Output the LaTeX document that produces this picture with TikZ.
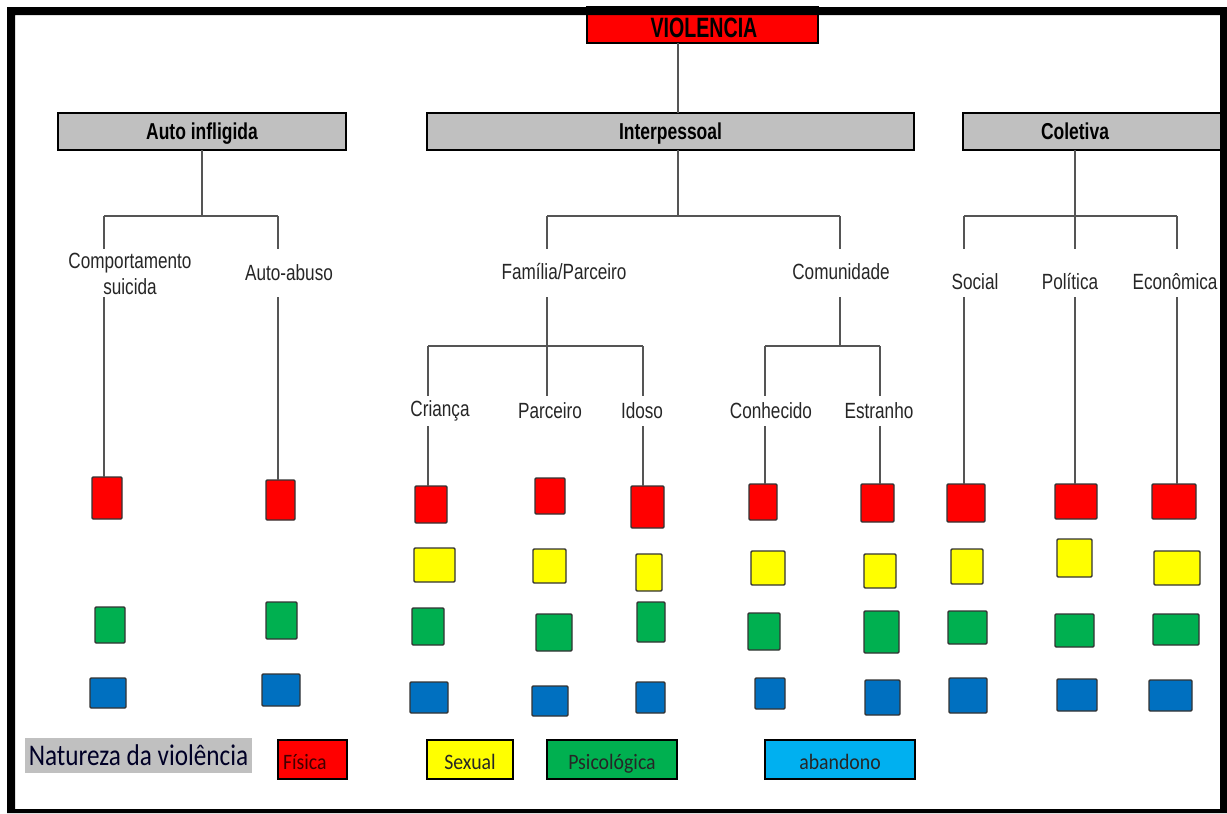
\documentclass[tikz,border=0pt]{standalone}
\usepackage{fontspec}
\setmainfont{Liberation Sans}
\newfontfamily\narrowfont[FakeStretch=0.78]{Liberation Sans}
\newfontfamily\headfont[FakeStretch=0.76]{Liberation Sans}
\newfontfamily\titlefont[FakeStretch=0.7]{Liberation Sans}
\newfontfamily\keyfont[FakeStretch=0.9]{Carlito}
\newfontfamily\keytitlefont[FakeStretch=0.84]{Carlito}

\definecolor{vred}{HTML}{FF0000}
\definecolor{vyellow}{HTML}{FFFF00}
\definecolor{vgreen}{HTML}{00B050}
\definecolor{vblue}{HTML}{0070C0}
\definecolor{vcyan}{HTML}{00B0F0}
\definecolor{boxgray}{HTML}{C0C0C0}
\definecolor{linegray}{HTML}{555555}
\definecolor{labeltext}{HTML}{262626}

% square marker: name, colour, left, top, right, bottom (pixel units, y downwards)
\newcommand\sqnode[6]{%
  \node[sqr, fill=#2, minimum width={#5-#3}, minimum height={#6-#4}]
    (#1) at ({(#3+#5)/2},{(#4+#6)/2}) {};}

\tikzset{
  conn/.style={draw=linegray, line width=1.8pt},
  catbox/.style={draw=black, line width=2.2pt, fill=boxgray, minimum height=37,
    inner sep=0, outer sep=0, text height=16, text depth=0,
    font=\headfont\bfseries\fontsize{23}{25}\selectfont},
  lbl/.style={font=\narrowfont\fontsize{22}{26}\selectfont, text=labeltext,
    inner sep=0, align=center},
  sqr/.style={draw=black!80, line width=1.4pt, rounded corners=1.2pt,
    inner sep=0, outer sep=0},
  keybox/.style={draw=black, line width=2pt, minimum height=39, inner sep=0,
    outer sep=0, text height=20, text depth=0,
    font=\keyfont\fontsize{22}{24}\selectfont},
}

\begin{document}
\begin{tikzpicture}[x=1pt, y=-1pt]
\useasboundingbox (0,0) rectangle (1227,814);
\fill[white] (0,0) rectangle (1227,814);

% ---- root and the three categories
\node[fill=vred, draw=black, line width=2pt, minimum width=231, minimum height=36,
      inner sep=0, outer sep=0] (viol) at (702.5,25) {};
\node[font=\titlefont\bfseries\fontsize{28}{30}\selectfont, inner sep=0,
      text height=20, text depth=0] (violtxt) at (704,27) {VIOLENCIA};

\node[catbox, minimum width=288] (auto) at (202,131.5) {Auto infligida};
\node[catbox, minimum width=487] (inter) at (670.5,131.5) {Interpessoal};
\node[catbox, minimum width=270] (colet) at (1098,131.5) {};
\node[font=\headfont\bfseries\fontsize{23}{25}\selectfont, inner sep=0,
      text height=16, text depth=0] (colettxt) at (1075,131.5) {Coletiva};

% free ends of the short vertical stubs
\coordinate (t1) at (0,249);
\coordinate (t2) at (0,297);
\coordinate (t3) at (0,396);
\coordinate (t4) at (0,426);

% ---- labels
\node[lbl] (comp) at (130,274) {Comportamento\\suicida};
\node[lbl] (aab)  at (289,273) {Auto-abuso};
\node[lbl] (fam)  at (564,272) {Família/Parceiro};
\node[lbl] (comu) at (841,272) {Comunidade};
\node[lbl] (soc)  at (975,282) {Social};
\node[lbl] (pol)  at (1070,282) {Política};
\node[lbl] (eco)  at (1175,282) {Econômica};
\node[lbl] (cri)  at (440,411) {Criança};
\node[lbl] (par)  at (550,411) {Parceiro};
\node[lbl] (ido)  at (642,411) {Idoso};
\node[lbl] (con)  at (771,411) {Conhecido};
\node[lbl] (est)  at (879,411) {Estranho};

% ---- coloured markers
\sqnode{cr}{vred}{92}{477}{122}{519}
\sqnode{cg}{vgreen}{95}{607}{125}{643}
\sqnode{cb}{vblue}{90}{678}{126}{708}
\sqnode{ar}{vred}{266}{480}{295}{520}
\sqnode{ag}{vgreen}{266}{602}{297}{639}
\sqnode{ab}{vblue}{262}{674}{300}{706}

\sqnode{crr}{vred}{415}{486}{447}{523}
\sqnode{cry}{vyellow}{414}{548}{455}{582}
\sqnode{crg}{vgreen}{412}{608}{444}{645}
\sqnode{crb}{vblue}{410}{682}{448}{713}

\sqnode{par r}{vred}{535}{478}{565}{514}
\sqnode{par y}{vyellow}{533}{549}{566}{583}
\sqnode{par g}{vgreen}{536}{614}{572}{651}
\sqnode{par b}{vblue}{532}{686}{568}{716}

\sqnode{idr}{vred}{631}{486}{664}{528}
\sqnode{idy}{vyellow}{636}{554}{662}{591}
\sqnode{idg}{vgreen}{637}{602}{665}{642}
\sqnode{idb}{vblue}{636}{682}{665}{713}

\sqnode{cor}{vred}{749}{484}{777}{520}
\sqnode{coy}{vyellow}{751}{551}{785}{585}
\sqnode{cog}{vgreen}{748}{613}{780}{650}
\sqnode{cob}{vblue}{755}{678}{785}{709}

\sqnode{esr}{vred}{861}{484}{894}{522}
\sqnode{esy}{vyellow}{864}{554}{896}{588}
\sqnode{esg}{vgreen}{864}{611}{899}{653}
\sqnode{esb}{vblue}{865}{680}{900}{715}

\sqnode{sor}{vred}{947}{484}{985}{522}
\sqnode{soy}{vyellow}{951}{549}{983}{584}
\sqnode{sog}{vgreen}{948}{611}{987}{644}
\sqnode{sob}{vblue}{949}{678}{987}{713}

\sqnode{por}{vred}{1055}{484}{1097}{519}
\sqnode{poy}{vyellow}{1057}{539}{1092}{577}
\sqnode{pog}{vgreen}{1055}{614}{1094}{647}
\sqnode{pob}{vblue}{1057}{679}{1097}{711}

\sqnode{ecr}{vred}{1152}{484}{1196}{519}
\sqnode{ecy}{vyellow}{1154}{551}{1200}{585}
\sqnode{ecg}{vgreen}{1153}{614}{1199}{645}
\sqnode{ecb}{vblue}{1149}{680}{1192}{711}

% ---- connectors: root to Interpessoal
\coordinate (ij) at (678,216);
\draw[conn] (viol.south -| ij) -- (inter.north -| ij);

% Auto infligida
\coordinate (aj) at (202,216);
\coordinate (al) at (104,216);
\coordinate (ar0) at (278,216);
\draw[conn] (auto.south) -- (aj);
\draw[conn] (al) -- (ar0);
\draw[conn] (al) -- (al |- t1);
\draw[conn] (ar0) -- (ar0 |- t1);
\draw[conn] (al |- t2) -- (al |- cr.north);
\draw[conn] (ar0 |- t2) -- (ar0 |- ar.north);

% Interpessoal
\coordinate (il) at (547,216);
\coordinate (ir) at (840,216);
\draw[conn] (inter.south -| ij) -- (ij);
\draw[conn] (il) -- (ir);
\draw[conn] (il) -- (il |- t1);
\draw[conn] (ir) -- (ir |- t1);

% Familia/Parceiro
\coordinate (fl) at (428,346);
\coordinate (fm) at (547,346);
\coordinate (fr) at (643,346);
\draw[conn] (il |- t2) -- (fm);
\draw[conn] (fl) -- (fr);
\draw[conn] (fl) -- (fl |- t3);
\draw[conn] (fm) -- (fm |- t3);
\draw[conn] (fr) -- (fr |- t3);
\draw[conn] (fl |- t4) -- (fl |- crr.north);
\draw[conn] (fr |- t4) -- (fr |- idr.north);

% Comunidade
\coordinate (cl) at (765,346);
\coordinate (cm) at (840,346);
\coordinate (cr0) at (880,346);
\draw[conn] (ir |- t2) -- (cm);
\draw[conn] (cl) -- (cr0);
\draw[conn] (cl) -- (cl |- t3);
\draw[conn] (cr0) -- (cr0 |- t3);
\draw[conn] (cl |- t4) -- (cl |- cor.north);
\draw[conn] (cr0 |- t4) -- (cr0 |- esr.north);

% Coletiva
\coordinate (kl) at (964,216);
\coordinate (km) at (1075,216);
\coordinate (kr) at (1177,216);
\draw[conn] (colettxt.center |- colet.south) -- (km);
\draw[conn] (kl) -- (kr);
\draw[conn] (kl) -- (kl |- t1);
\draw[conn] (km) -- (km |- t1);
\draw[conn] (kr) -- (kr |- t1);
\draw[conn] (kl |- t2) -- (kl |- sor.north);
\draw[conn] (km |- t2) -- (km |- por.north);
\draw[conn] (kr |- t2) -- (kr |- ecr.north);

% ---- key
\node[fill=boxgray, minimum width=227, minimum height=35, inner sep=0,
      text height=20, text depth=0,
      font=\keytitlefont\fontsize{30}{32}\selectfont, text=black!85!blue] (key) at (138.5,755.5) {Natureza da violência};
\node[keybox, fill=vred, minimum width=69, text width=59, align=left, text=black!75!red] (kfis) at (312.5,759.5) {Física};
\node[keybox, fill=vyellow, minimum width=86, text=black!85] (ksex) at (470,759.5) {Sexual};
\node[keybox, fill=vgreen, minimum width=130, text=black!85] (kpsi) at (612,759.5) {Psicológica};
\node[keybox, fill=vcyan, minimum width=150, text=black!85] (kaba) at (840,759.5) {abandono};

% ---- outer frame
\fill[black, even odd rule] (7,7) rectangle (1227,813) (15,15) rectangle (1220,809);
\end{tikzpicture}
\end{document}
